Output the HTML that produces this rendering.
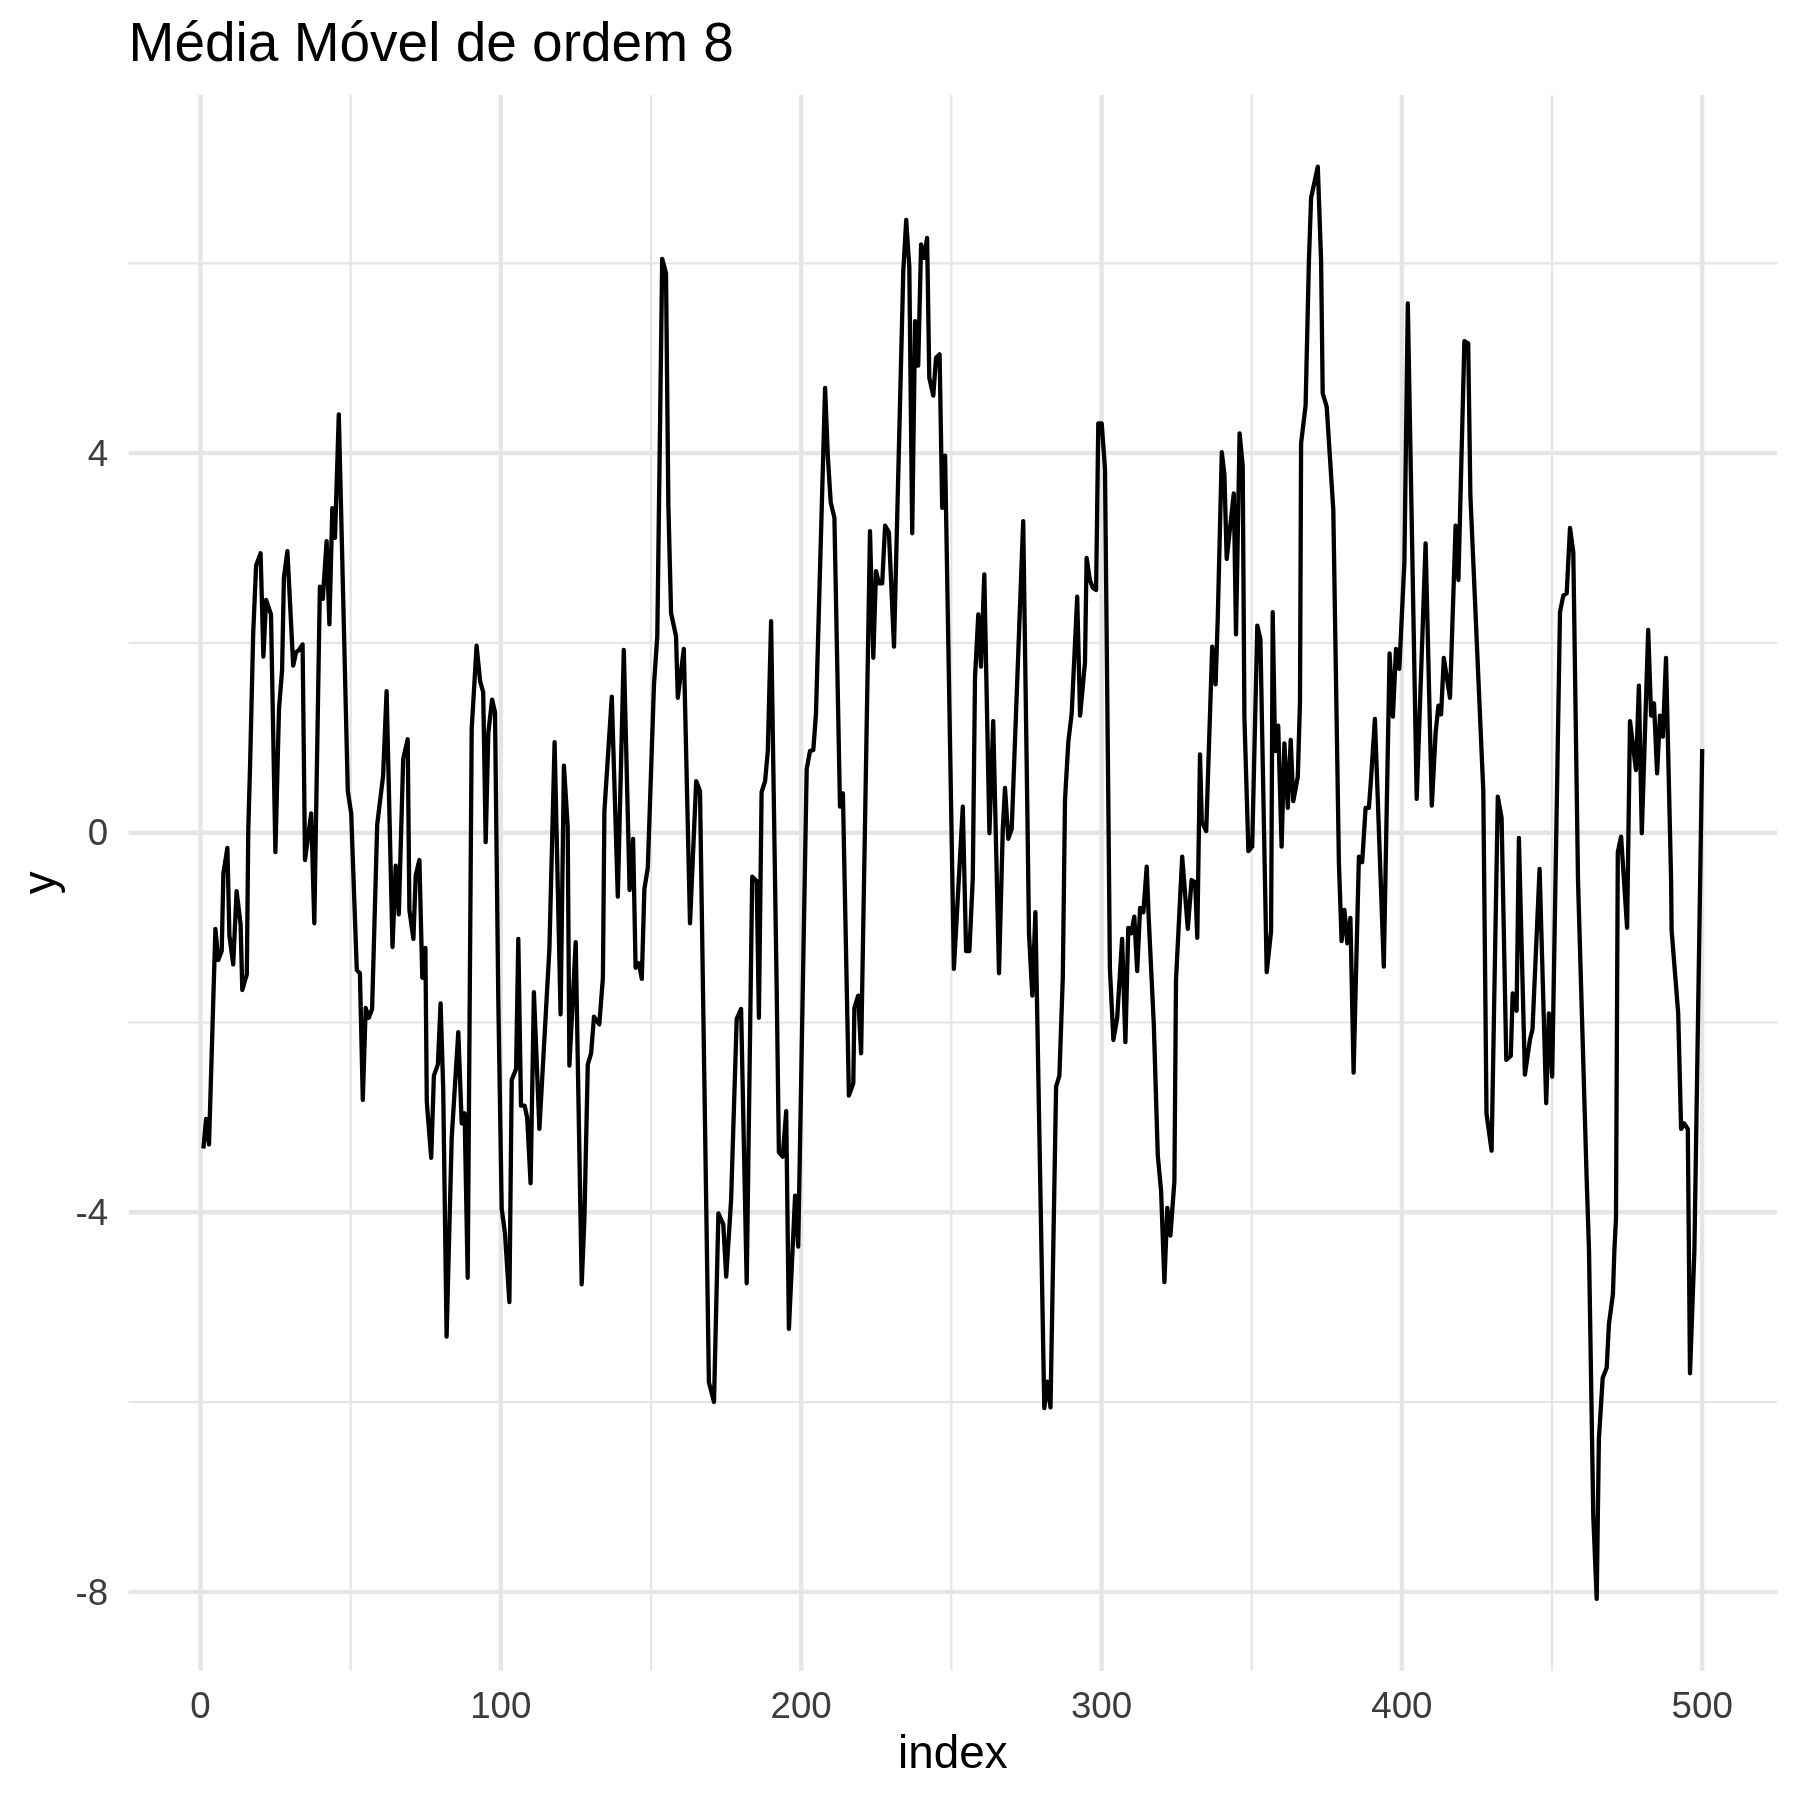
<!DOCTYPE html>
<html><head><meta charset="utf-8"><style>
html,body{margin:0;padding:0;background:#fff;}
svg{display:block;}
text{font-family:"Liberation Sans",sans-serif;}
svg{will-change:transform;}
.ax{font-size:36.7px;fill:#3C3C3C;}
.tt{font-size:45.8px;fill:#000;}
.title{font-size:55px;fill:#000;}
</style></head><body>
<svg width="1800" height="1800" viewBox="0 0 1800 1800">
<rect width="1800" height="1800" fill="#fff"/>
<line x1="128.6" x2="1777.1" y1="263.30" y2="263.30" stroke="#E5E5E5" stroke-width="2.2"/>
<line x1="128.6" x2="1777.1" y1="642.90" y2="642.90" stroke="#E5E5E5" stroke-width="2.2"/>
<line x1="128.6" x2="1777.1" y1="1022.50" y2="1022.50" stroke="#E5E5E5" stroke-width="2.2"/>
<line x1="128.6" x2="1777.1" y1="1402.10" y2="1402.10" stroke="#E5E5E5" stroke-width="2.2"/>
<line y1="95.0" y2="1670.8" x1="350.67" x2="350.67" stroke="#E5E5E5" stroke-width="2.2"/>
<line y1="95.0" y2="1670.8" x1="651.01" x2="651.01" stroke="#E5E5E5" stroke-width="2.2"/>
<line y1="95.0" y2="1670.8" x1="951.35" x2="951.35" stroke="#E5E5E5" stroke-width="2.2"/>
<line y1="95.0" y2="1670.8" x1="1251.69" x2="1251.69" stroke="#E5E5E5" stroke-width="2.2"/>
<line y1="95.0" y2="1670.8" x1="1552.03" x2="1552.03" stroke="#E5E5E5" stroke-width="2.2"/>
<line x1="128.6" x2="1777.1" y1="453.10" y2="453.10" stroke="#E5E5E5" stroke-width="4.4"/>
<line x1="128.6" x2="1777.1" y1="832.70" y2="832.70" stroke="#E5E5E5" stroke-width="4.4"/>
<line x1="128.6" x2="1777.1" y1="1212.30" y2="1212.30" stroke="#E5E5E5" stroke-width="4.4"/>
<line x1="128.6" x2="1777.1" y1="1591.90" y2="1591.90" stroke="#E5E5E5" stroke-width="4.4"/>
<line y1="95.0" y2="1670.8" x1="200.50" x2="200.50" stroke="#E5E5E5" stroke-width="4.4"/>
<line y1="95.0" y2="1670.8" x1="500.84" x2="500.84" stroke="#E5E5E5" stroke-width="4.4"/>
<line y1="95.0" y2="1670.8" x1="801.18" x2="801.18" stroke="#E5E5E5" stroke-width="4.4"/>
<line y1="95.0" y2="1670.8" x1="1101.52" x2="1101.52" stroke="#E5E5E5" stroke-width="4.4"/>
<line y1="95.0" y2="1670.8" x1="1401.86" x2="1401.86" stroke="#E5E5E5" stroke-width="4.4"/>
<line y1="95.0" y2="1670.8" x1="1702.20" x2="1702.20" stroke="#E5E5E5" stroke-width="4.4"/>
<polyline points="203.4,1148.5 206.1,1118.9 209.0,1144.4 215.4,928.9 218.3,960.0 221.7,951.1 223.4,873.3 227.4,847.8 229.4,935.6 233.2,964.4 236.6,891.1 240.6,924.4 242.3,990.0 246.8,974.4 248.3,828.9 250.1,764.4 253.2,633.3 256.1,565.6 260.6,553.3 263.4,656.7 266.1,600.0 271.0,614.4 275.4,852.2 279.0,708.9 282.1,670.0 283.9,577.8 287.4,551.1 293.2,665.6 296.1,652.2 299.0,650.0 302.6,644.4 305.0,860.0 311.2,813.3 314.3,923.3 319.9,586.7 322.8,598.9 326.6,541.1 329.4,624.4 332.3,508.2 335.0,537.8 338.8,414.4 347.8,791.1 351.2,813.3 356.8,970.0 359.9,973.3 362.8,1100.0 365.7,1007.8 368.8,1017.8 372.1,1008.9 377.2,824.4 383.1,776.0 386.6,691.1 392.5,947.0 395.7,865.6 398.8,914.4 403.2,758.9 407.7,739.3 409.4,910.0 413.4,938.9 415.7,875.6 419.4,860.0 422.3,977.8 425.4,947.8 426.8,1102.2 431.2,1157.8 433.9,1075.6 437.9,1064.4 440.6,1003.3 443.2,1088.9 446.6,1336.7 451.7,1137.8 458.3,1032.2 461.7,1123.3 464.6,1113.3 467.7,1277.8 471.7,728.9 476.6,645.6 480.1,681.1 483.2,692.2 485.7,842.2 488.3,733.3 492.1,699.6 495.0,712.2 498.3,1000.0 501.7,1208.9 505.0,1233.3 509.4,1302.2 511.7,1080.0 516.1,1068.9 518.3,938.9 521.0,1105.6 524.6,1105.6 527.2,1117.8 530.6,1183.3 533.9,992.2 539.4,1128.9 549.4,948.9 554.6,742.2 560.6,1014.4 563.9,765.6 567.7,826.7 569.4,1065.6 575.7,942.2 581.7,1284.4 584.4,1218.9 587.8,1064.4 591.1,1053.3 594.0,1016.7 599.3,1024.4 602.9,977.8 604.4,811.1 611.8,696.7 617.8,896.7 623.8,650.0 629.6,890.0 633.1,838.9 635.6,967.8 638.9,963.3 641.8,978.9 644.4,888.9 647.8,867.8 654.0,684.4 657.3,636.0 662.2,258.9 666.0,273.3 668.4,506.7 671.1,613.3 676.0,636.0 677.8,697.8 683.8,648.9 690.0,923.3 696.2,781.1 700.0,791.1 708.9,1382.2 714.0,1402.0 718.4,1213.3 723.3,1224.4 726.2,1276.7 731.1,1200.0 736.7,1018.9 741.1,1008.9 746.7,1283.3 752.2,876.7 756.7,881.1 758.9,1017.8 761.6,792.2 765.1,781.1 767.8,751.1 771.1,621.1 776.7,990.0 778.9,1152.2 782.7,1156.7 786.2,1111.1 788.9,1328.9 795.1,1195.6 798.2,1246.7 806.7,768.9 810.0,751.1 813.3,750.0 816.0,713.3 825.1,387.8 827.8,455.6 830.7,502.2 834.4,517.8 840.0,806.7 842.9,793.3 848.9,1095.6 853.3,1083.3 854.4,1007.8 858.2,995.6 861.1,1053.3 870.0,531.1 873.3,657.8 876.0,571.1 878.9,583.3 882.2,583.3 885.1,525.6 888.9,532.2 894.0,646.7 903.3,271.1 906.2,220.0 909.3,266.7 912.2,533.3 915.1,321.1 918.2,365.6 921.1,244.4 924.0,257.8 927.1,237.8 929.3,377.8 933.3,395.6 936.0,357.8 939.6,354.4 942.2,507.8 945.1,455.6 953.9,968.9 962.8,806.7 966.1,951.1 969.4,951.1 972.8,877.8 975.0,677.8 978.3,614.4 981.0,666.7 984.3,574.4 989.4,833.3 993.2,721.1 999.0,973.3 1002.8,828.9 1005.0,787.8 1008.3,838.9 1011.7,828.9 1023.2,521.1 1027.2,800.0 1029.0,933.3 1032.3,995.6 1035.4,912.2 1044.3,1408.2 1047.4,1381.7 1050.5,1407.4 1056.1,1086.7 1059.4,1075.6 1062.8,977.8 1065.0,800.0 1068.3,742.2 1071.7,713.3 1077.2,596.7 1080.1,715.6 1085.0,662.2 1086.6,557.8 1089.9,580.0 1092.8,587.8 1096.1,590.0 1098.3,423.3 1101.7,423.3 1105.0,468.9 1108.3,800.0 1109.9,968.9 1113.4,1040.0 1117.2,1017.8 1122.1,938.9 1125.4,1042.2 1128.3,927.8 1131.2,933.3 1134.3,916.7 1137.2,971.1 1140.1,907.8 1143.4,912.2 1146.7,866.7 1148.9,922.2 1153.8,1024.4 1157.8,1155.6 1161.1,1191.1 1164.4,1282.2 1167.3,1207.8 1170.4,1235.6 1174.4,1181.1 1176.0,980.0 1182.2,856.7 1187.8,928.9 1191.6,880.0 1195.1,882.2 1197.3,937.8 1200.0,754.4 1201.8,822.0 1206.2,831.1 1212.2,646.7 1215.6,684.4 1217.8,616.7 1221.8,452.2 1224.4,474.4 1226.7,558.9 1233.8,493.3 1236.0,634.4 1239.6,433.3 1242.7,465.6 1244.4,716.7 1248.4,851.1 1252.2,846.7 1257.3,625.6 1260.4,638.9 1266.7,972.2 1271.1,931.1 1272.7,612.2 1275.1,751.1 1278.2,725.6 1281.6,846.7 1284.4,743.3 1287.8,807.8 1290.7,740.0 1293.3,801.1 1297.8,776.7 1300.0,701.1 1301.1,443.3 1305.6,405.6 1308.9,261.1 1311.1,197.8 1317.8,166.7 1321.1,261.1 1322.7,393.3 1326.7,406.7 1333.3,510.0 1338.9,862.2 1341.6,941.1 1344.4,910.0 1347.3,943.3 1350.4,917.8 1353.6,1072.7 1358.9,856.7 1362.2,862.2 1365.6,807.8 1368.9,807.8 1371.1,777.8 1374.9,718.9 1383.8,966.7 1389.6,653.3 1392.9,716.7 1396.0,648.9 1399.3,668.9 1404.4,562.2 1407.8,303.3 1416.7,798.9 1425.6,543.3 1431.8,805.6 1435.6,733.3 1438.4,705.6 1441.1,714.4 1443.8,657.8 1450.0,697.8 1455.6,525.6 1458.4,580.0 1464.4,341.1 1468.2,343.3 1470.4,495.6 1483.3,791.1 1486.5,1113.6 1491.6,1150.6 1497.8,796.7 1501.6,817.8 1506.3,1059.9 1510.8,1056.0 1512.7,993.4 1516.6,1010.7 1518.9,837.8 1524.9,1074.6 1530.0,1039.4 1532.5,1029.2 1539.6,868.9 1546.2,1103.3 1548.9,1013.3 1552.2,1076.7 1560.0,612.2 1563.3,595.6 1566.7,593.3 1570.0,527.8 1573.3,552.2 1578.0,880.0 1586.7,1180.0 1589.0,1250.0 1593.3,1516.7 1596.7,1598.9 1598.9,1438.9 1602.7,1377.8 1606.7,1367.8 1608.9,1324.4 1612.9,1294.4 1614.4,1250.0 1616.0,1217.8 1617.8,852.2 1621.1,836.7 1627.1,927.8 1630.0,721.1 1636.0,770.0 1638.9,685.6 1641.8,833.3 1648.2,630.0 1651.1,715.6 1654.0,703.3 1657.1,773.3 1660.0,715.6 1662.9,736.7 1666.0,657.8 1671.1,880.0 1671.6,930.0 1678.2,1013.3 1681.1,1128.9 1684.0,1123.3 1687.8,1128.9 1690.0,1373.3 1694.4,1250.0 1702.2,749.0" fill="none" stroke="#000" stroke-width="4.3" stroke-linejoin="round" stroke-linecap="butt"/>
<text x="108.2" y="465.70" text-anchor="end" class="ax">4</text>
<text x="108.2" y="845.30" text-anchor="end" class="ax">0</text>
<text x="108.2" y="1224.90" text-anchor="end" class="ax">-4</text>
<text x="108.2" y="1604.50" text-anchor="end" class="ax">-8</text>
<text x="200.50" y="1717.6" text-anchor="middle" class="ax">0</text>
<text x="500.84" y="1717.6" text-anchor="middle" class="ax">100</text>
<text x="801.18" y="1717.6" text-anchor="middle" class="ax">200</text>
<text x="1101.52" y="1717.6" text-anchor="middle" class="ax">300</text>
<text x="1401.86" y="1717.6" text-anchor="middle" class="ax">400</text>
<text x="1702.20" y="1717.6" text-anchor="middle" class="ax">500</text>
<text x="128.6" y="61" class="title">Média Móvel de ordem 8</text>
<text x="952.8" y="1768" text-anchor="middle" class="tt">index</text>
<text transform="translate(55,882.9) rotate(-90)" text-anchor="middle" class="tt">y</text>
</svg>
</body></html>
